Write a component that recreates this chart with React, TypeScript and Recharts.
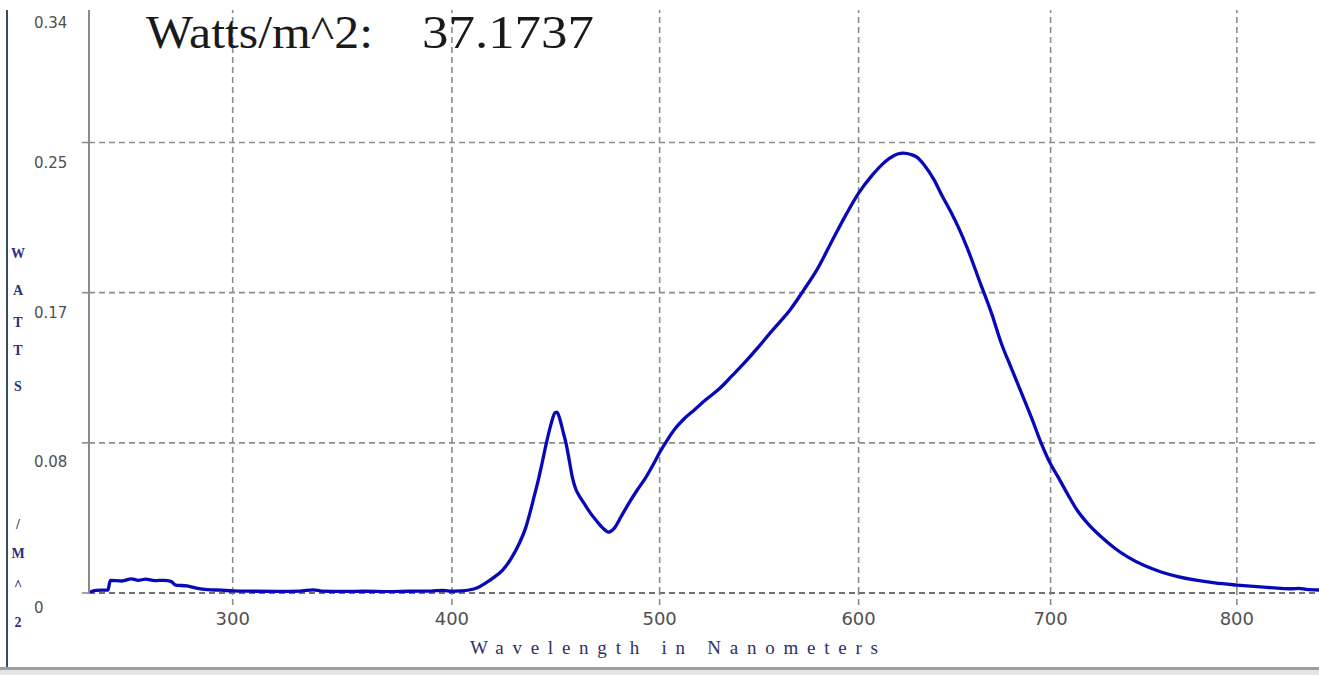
import React from 'react';
import { LineChart, Line, XAxis, YAxis, ReferenceLine } from 'recharts';

// ---- data ----
const wavelengths = [
  238, 241, 246, 247, 252, 256, 259, 262, 266, 270, 273, 275, 280, 284, 289, 295, 300,
  310, 320, 330, 336, 340, 350, 360, 370, 380, 390, 396, 400, 404, 408, 412, 416, 420,
  424, 428, 432, 435, 437, 439, 441, 443, 445, 447, 449, 450, 451.5, 453, 454.5, 456,
  457.5, 459, 461, 463, 466, 469, 472, 475, 478, 481, 485, 489, 493, 497, 500, 504, 508,
  512, 517, 523, 530, 536, 542, 549, 555, 560, 565, 572, 579, 587, 594, 600, 607, 612,
  616, 620, 623, 627, 630, 634, 639, 643, 648, 652, 656, 663, 669, 674, 679, 684, 690,
  695, 700, 704, 709, 714, 720, 727, 734, 741, 750, 759, 768, 777, 788, 800, 811, 822,
  830, 834, 838, 845,
];
const irradiance = [
  0.0003, 0.0015, 0.0017, 0.0072, 0.0068, 0.008, 0.0072, 0.0078, 0.007, 0.0072, 0.0066,
  0.0045, 0.004, 0.0028, 0.0019, 0.0016, 0.0012, 0.001, 0.0009, 0.0011, 0.0018, 0.0011,
  0.0009, 0.001, 0.0008, 0.001, 0.0011, 0.0015, 0.001, 0.0012, 0.0017, 0.003, 0.0057,
  0.009, 0.013, 0.0195, 0.0283, 0.037, 0.0453, 0.0545, 0.0639, 0.0745, 0.0854, 0.095,
  0.102, 0.1024, 0.0979, 0.091, 0.084, 0.0745, 0.065, 0.059, 0.0545, 0.0509, 0.0455,
  0.041, 0.037, 0.0345, 0.037, 0.043, 0.051, 0.0583, 0.065, 0.073, 0.0795, 0.087, 0.0935,
  0.0985, 0.1035, 0.1095, 0.116, 0.123, 0.1301, 0.139, 0.1471, 0.1535, 0.1601, 0.1714,
  0.1835, 0.2005, 0.215, 0.2263, 0.2365, 0.2425, 0.2461, 0.2485, 0.249, 0.2482, 0.2467,
  0.242, 0.2337, 0.225, 0.215, 0.206, 0.1958, 0.1754, 0.158, 0.1414, 0.128, 0.1149,
  0.099, 0.0849, 0.073, 0.0656, 0.056, 0.047, 0.039, 0.0317, 0.0255, 0.0204, 0.0155,
  0.0119, 0.0093, 0.0074, 0.0057, 0.0045, 0.0036, 0.0028, 0.0024, 0.0026, 0.002, 0.0017,
];
const xDomain = [238, 845];
const xTicks = [300, 400, 500, 600, 700, 800];
const yDomain = [0, 0.33];
const yTicks = [0, 0.085, 0.17, 0.255, 0.33];
const yTickLabels = ['0', '0.08', '0.17', '0.25', '0.34'];
const yGridValues = [0.085, 0.17, 0.255];
const yAxisLetters = ['W', 'A', 'T', 'T', 'S', '/', 'M', '^', '2'];
const titleLabel = 'Watts/m^2:';
const titleValue = '37.1737';
const xAxisTitle = 'Wavelength in Nanometers';

const data = wavelengths.map((wl, i) => ({ wl, w: irradiance[i] }));

// spectrometer wavelength axis is slightly non-linear: a power scale
function powScale(exponent: number): any {
  let dom: number[] = [0, 1];
  let rng: number[] = [0, 1];
  const f = (v: number) => Math.sign(v) * Math.pow(Math.abs(v), exponent);
  const fi = (v: number) => Math.sign(v) * Math.pow(Math.abs(v), 1 / exponent);
  const scale: any = (v: number) => {
    const d0 = f(dom[0]);
    const d1 = f(dom[1]);
    const t = (f(Number(v)) - d0) / (d1 - d0);
    return rng[0] + t * (rng[1] - rng[0]);
  };
  scale.domain = (d?: number[]) => {
    if (d === undefined) return dom.slice();
    dom = d.map(Number);
    return scale;
  };
  scale.range = (r?: number[]) => {
    if (r === undefined) return rng.slice();
    rng = r.map(Number);
    return scale;
  };
  scale.rangeRound = scale.range;
  scale.copy = () => powScale(exponent).domain(dom).range(rng);
  scale.invert = (px: number) => {
    const d0 = f(dom[0]);
    const d1 = f(dom[1]);
    const t = (px - rng[0]) / (rng[1] - rng[0]);
    return fi(d0 + t * (d1 - d0));
  };
  scale.ticks = (n: number = 10) => {
    const span = dom[1] - dom[0];
    const step = Math.pow(10, Math.floor(Math.log10(span / n)));
    const out: number[] = [];
    for (let v = Math.ceil(dom[0] / step) * step; v <= dom[1]; v += step) out.push(v);
    return out;
  };
  scale.tickFormat = () => (v: number) => String(v);
  scale.nice = () => scale;
  scale.clamp = () => scale;
  scale.unknown = () => scale;
  scale.interpolate = () => scale;
  return scale;
}

const xScale = powScale(0.787);

const GRID = '#8c8c8c';
const DASH = '6 4';
const yLabelDy = [15, 19, 20, 20, 13];

const XTick = (props: any) => {
  const { x, y, payload } = props;
  return (
    <text
      x={x}
      y={y + 11}
      textAnchor="middle"
      dominantBaseline="central"
      fontFamily="'DejaVu Sans', Verdana, sans-serif"
      fontSize={18}
      fill="#505050"
    >
      {payload.value}
    </text>
  );
};

const YTick = (props: any) => {
  const { y, payload } = props;
  const idx = yTicks.indexOf(payload.value);
  const isTop = idx === yTicks.length - 1;
  return (
    <g>
      {!isTop && <line x1={82} x2={89} y1={y} y2={y} stroke={GRID} strokeWidth={1.6} />}
      <text
        x={34}
        y={y + yLabelDy[idx]}
        textAnchor="start"
        dominantBaseline="central"
        fontFamily="'DejaVu Sans', Verdana, sans-serif"
        fontSize={15}
        fill="#505050"
      >
        {yTickLabels[idx]}
      </text>
    </g>
  );
};

const letterY = [253, 290, 322, 350, 386, 524, 553, 585, 622];

export default function App() {
  return (
    <div
      style={{
        position: 'absolute',
        left: 0,
        top: 0,
        width: 1319,
        height: 675,
        background: '#ffffff',
        overflow: 'hidden',
      }}
    >
      <LineChart
        width={1319}
        height={675}
        data={data}
        margin={{ top: 10, right: 0, bottom: 0, left: 0 }}
      >
        <XAxis
          dataKey="wl"
          type="number"
          scale={xScale}
          domain={xDomain}
          allowDataOverflow
          ticks={xTicks}
          interval={0}
          height={82}
          axisLine={false}
          tickSize={12}
          tickLine={{ stroke: GRID, strokeDasharray: DASH, strokeWidth: 1.6 }}
          tick={<XTick />}
        />
        <YAxis
          type="number"
          domain={yDomain}
          allowDataOverflow
          ticks={yTicks}
          interval={0}
          width={89}
          axisLine={{ stroke: '#8a8a8a', strokeWidth: 2 }}
          tickLine={false}
          tick={<YTick />}
        />
        {yGridValues.map((v) => (
          <ReferenceLine key={'h' + v} y={v} stroke={GRID} strokeWidth={1.6} strokeDasharray={DASH} />
        ))}
        {xTicks.map((v) => (
          <ReferenceLine key={'v' + v} x={v} stroke={GRID} strokeWidth={1.6} strokeDasharray={DASH} />
        ))}
        <ReferenceLine y={0} stroke="#6e6e6e" strokeWidth={2} strokeDasharray={DASH} />
        <Line
          type="monotone"
          dataKey="w"
          stroke="#0808b8"
          strokeWidth={3.3}
          dot={false}
          isAnimationActive={false}
        />
      </LineChart>
      <svg
        width={1319}
        height={675}
        style={{ position: 'absolute', left: 0, top: 0, pointerEvents: 'none' }}
      >
        <text
          x={146}
          y={48}
          fontFamily="'Liberation Serif', 'Times New Roman', serif"
          fontSize={46}
          fill="#1a1a1a"
          textLength={227}
          lengthAdjust="spacingAndGlyphs"
        >
          {titleLabel}
        </text>
        <text
          x={422}
          y={48}
          fontFamily="'Liberation Serif', 'Times New Roman', serif"
          fontSize={46}
          fill="#1a1a1a"
          textLength={172}
          lengthAdjust="spacingAndGlyphs"
        >
          {titleValue}
        </text>
        <text
          x={470}
          y={654}
          fontFamily="'Liberation Serif', 'Times New Roman', serif"
          fontSize={19}
          fill="#2e2e66"
          textLength={408}
          lengthAdjust="spacing"
        >
          {xAxisTitle}
        </text>
        {yAxisLetters.map((ch, i) => (
          <text
            key={i}
            x={18}
            y={letterY[i]}
            textAnchor="middle"
            dominantBaseline="central"
            fontFamily="'Liberation Serif', 'Times New Roman', serif"
            fontWeight="bold"
            fontSize={14}
            fill="#2e2e80"
          >
            {ch}
          </text>
        ))}
      </svg>
      <div style={{ position: 'absolute', left: 6, top: 10, width: 2, height: 660, background: '#34505c' }} />
      <div style={{ position: 'absolute', left: 0, top: 667, width: 1319, height: 3, background: '#a0a0a0' }} />
      <div style={{ position: 'absolute', left: 0, top: 670, width: 1319, height: 5, background: '#e4e4e4' }} />
    </div>
  );
}
